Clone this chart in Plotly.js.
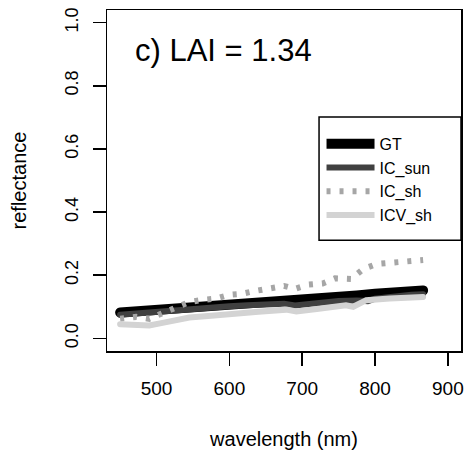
<!DOCTYPE html>
<html>
<head>
<meta charset="utf-8">
<script src="https://cdn.plot.ly/plotly-3.0.1.min.js"></script>
<style>
html,body{margin:0;padding:0;background:#fff;}
#chart{width:468px;height:453px;}
.scatterlayer .trace:nth-child(1) path.js-line,
.scatterlayer .trace:nth-child(2) path.js-line,
.scatterlayer .trace:nth-child(4) path.js-line{stroke-linecap:round;}
</style>
</head>
<body>
<div id="chart"></div>
<script>
// ---- data ----
var gtWavelength    = [450, 475, 500, 525, 550, 575, 600, 625, 650, 675, 690, 700, 725, 750, 775, 800, 825, 850, 866];
var gtReflectance   = [0.082, 0.086, 0.090, 0.095, 0.100, 0.104, 0.108, 0.111, 0.114, 0.117, 0.115, 0.118, 0.126, 0.131, 0.136, 0.141, 0.145, 0.149, 0.152];

var icSunWavelength  = [450, 475, 500, 525, 550, 575, 600, 625, 650, 675, 690, 700, 725, 750, 775, 790, 800, 825, 850, 866];
var icSunReflectance = [0.075, 0.080, 0.083, 0.088, 0.095, 0.098, 0.102, 0.105, 0.108, 0.110, 0.104, 0.107, 0.113, 0.118, 0.120, 0.118, 0.126, 0.134, 0.138, 0.140];

var icShWavelength  = [450, 472, 490, 510, 527, 545, 563, 582, 600, 617, 635, 653, 675, 690, 708, 728, 745, 767, 775, 784, 803, 837, 866];
var icShReflectance = [0.062, 0.068, 0.062, 0.083, 0.096, 0.115, 0.122, 0.126, 0.138, 0.141, 0.150, 0.156, 0.166, 0.157, 0.170, 0.174, 0.190, 0.188, 0.204, 0.220, 0.236, 0.241, 0.248];

var icvShWavelength  = [450, 465, 490, 510, 545, 575, 600, 640, 678, 692, 720, 760, 770, 788, 820, 866];
var icvShReflectance = [0.045, 0.043, 0.041, 0.050, 0.066, 0.072, 0.078, 0.084, 0.091, 0.085, 0.093, 0.105, 0.100, 0.121, 0.126, 0.131];

var seriesNames = ["GT", "IC_sun", "IC_sh", "ICV_sh"];
var xTickValues = [500, 600, 700, 800, 900];
var yTickValues = [0.0, 0.2, 0.4, 0.6, 0.8, 1.0];
var yTickLabels = ["0.0", "0.2", "0.4", "0.6", "0.8", "1.0"];
var panelLabel  = "c) LAI = 1.34";

// ---- chart ----
var FONT = "Liberation Sans, Arial, Helvetica, sans-serif";

var traces = [
  {x: gtWavelength, y: gtReflectance, name: seriesNames[0], mode: "lines",
   line: {color: "#000000", width: 10}, legendgroup: "a"},
  {x: icSunWavelength, y: icSunReflectance, name: seriesNames[1], mode: "lines",
   line: {color: "#404040", width: 6}, legendgroup: "b"},
  {x: icShWavelength, y: icShReflectance, name: seriesNames[2], mode: "lines",
   line: {color: "#a6a6a6", width: 6, dash: "4px,9px"}, legendgroup: "c"},
  {x: icvShWavelength, y: icvShReflectance, name: seriesNames[3], mode: "lines",
   line: {color: "#d3d3d3", width: 6}, legendgroup: "d"}
];

var layout = {
  width: 468, height: 453,
  margin: {l: 107, r: 7, t: 10, b: 102, pad: 0},
  paper_bgcolor: "#ffffff", plot_bgcolor: "#ffffff",
  font: {family: FONT, color: "#000000"},
  showlegend: true,
  legend: {
    x: 0.606, y: 0.692, xanchor: "left", yanchor: "top",
    bgcolor: "rgba(0,0,0,0)", borderwidth: 0,
    font: {family: FONT, size: 16, color: "#000000"},
    traceorder: "grouped", tracegroupgap: 0, itemwidth: 48,
    title: {text: " ", font: {family: FONT, size: 9}}
  },
  shapes: [{
    type: "rect", xref: "paper", yref: "paper", layer: "above",
    x0: 0.599, x1: 1.0, y0: 0.325, y1: 0.686,
    line: {color: "#000000", width: 1.5}, fillcolor: "#ffffff"
  }],
  xaxis: {
    range: [432, 918], tickvals: xTickValues, ticktext: xTickValues.map(String),
    ticks: "outside", ticklen: 13, tickwidth: 1.5, tickcolor: "#000",
    showline: true, linecolor: "#000", linewidth: 1.5, mirror: true,
    showgrid: false, zeroline: false, ticklabelstandoff: 7,
    tickfont: {family: FONT, size: 19, color: "#000"},
    title: {text: "wavelength (nm)", font: {family: FONT, size: 20, color: "#000"}, standoff: 33}
  },
  yaxis: {
    range: [-0.04, 1.04], tickvals: yTickValues, ticktext: yTickLabels,
    ticks: "outside", ticklen: 13, tickwidth: 1.5, tickcolor: "#000", tickangle: -90,
    showline: true, linecolor: "#000", linewidth: 1.5, mirror: true,
    showgrid: false, zeroline: false, ticklabelstandoff: 7,
    tickfont: {family: FONT, size: 18, color: "#000"},
    title: {text: "reflectance", font: {family: FONT, size: 20, color: "#000"}, standoff: 30}
  },
  annotations: [{
    text: panelLabel, xref: "paper", yref: "paper", x: 0.074, y: 0.88,
    xanchor: "left", yanchor: "middle", showarrow: false,
    font: {family: FONT, size: 31, color: "#000"}
  }]
};

Plotly.newPlot("chart", traces, layout, {staticPlot: true, displayModeBar: false});
</script>
</body>
</html>
